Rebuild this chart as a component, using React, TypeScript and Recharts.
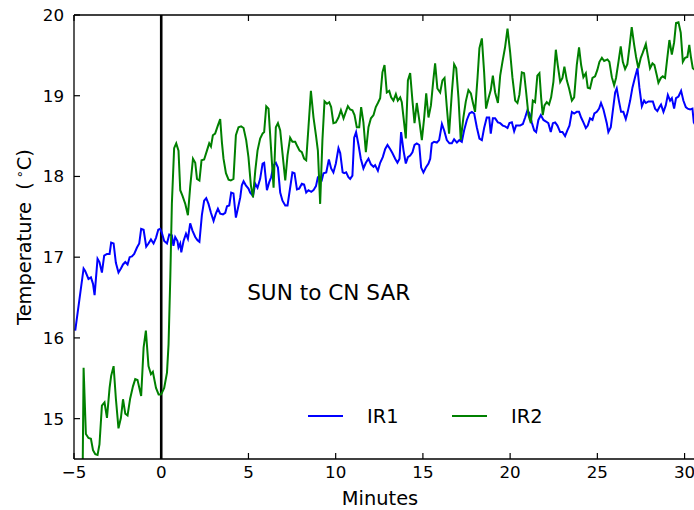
import { Legend, Line, LineChart, ReferenceDot, ReferenceLine, XAxis, YAxis } from 'recharts';

const ir1Minutes = [
  -4.93, -4.45, -4.36, -4.17, -4.03, -3.91, -3.82, -3.65, -3.54, -3.4, -3.27, -3.11, -2.96, -2.87, -2.73, -2.6, -2.45, -2.31, -2.19, -2.06,
  -1.93, -1.81, -1.68, -1.55, -1.39, -1.26, -1.15, -1.01, -0.86, -0.73, -0.59, -0.44, -0.3, -0.17, -0.06,
  0.04, 0.17, 0.33, 0.46, 0.61, 0.7, 0.8, 0.93, 0.99, 1.09, 1.15, 1.28, 1.42, 1.53, 1.66, 1.79, 1.95, 2.08, 2.19, 2.33,
  2.46, 2.58, 2.71, 2.85, 3.0, 3.13, 3.25, 3.38, 3.54, 3.67, 3.77, 3.9, 4.01, 4.14, 4.28, 4.4, 4.53, 4.62, 4.72, 4.85, 5.0,
  5.1, 5.26, 5.39, 5.52, 5.67, 5.81, 5.9, 6.06, 6.19, 6.3, 6.44, 6.57, 6.69, 6.82, 6.95, 7.11, 7.24, 7.39, 7.52, 7.64,
  7.78, 7.91, 8.06, 8.19, 8.31, 8.44, 8.6, 8.73, 8.87, 8.98, 9.07, 9.21, 9.3, 9.46, 9.61, 9.74, 9.87, 10.01, 10.16,
  10.26, 10.4, 10.49, 10.6, 10.73, 10.83, 10.96, 11.06, 11.17, 11.31, 11.44, 11.59, 11.73, 11.88, 12.02, 12.17, 12.26, 12.42, 12.55, 12.7,
  12.84, 12.97, 13.12, 13.25, 13.41, 13.54, 13.66, 13.75, 13.89, 14.02, 14.14, 14.27, 14.4, 14.52, 14.65, 14.79, 14.9, 15.03, 15.17, 15.32,
  15.42, 15.51, 15.64, 15.8, 15.93, 16.09, 16.22, 16.37, 16.52, 16.66, 16.79, 16.95, 17.09, 17.23, 17.36, 17.52, 17.67, 17.81, 17.94, 18.09,
  18.24, 18.38, 18.51, 18.66, 18.8, 18.89, 19.01, 19.14, 19.3, 19.43, 19.58, 19.71, 19.85, 19.96, 20.1, 20.23, 20.34, 20.48,
  20.57, 20.73, 20.86, 20.99, 21.11, 21.24, 21.38, 21.49, 21.62, 21.76, 21.91, 22.06, 22.19, 22.33, 22.45, 22.58, 22.71, 22.87, 23.0, 23.15,
  23.28, 23.4, 23.54, 23.67, 23.82, 23.95, 24.07, 24.2, 24.34, 24.45, 24.58, 24.72, 24.83, 24.97, 25.1, 25.21, 25.35,
  25.44, 25.54, 25.63, 25.77, 25.89, 26.02, 26.11, 26.25, 26.36, 26.49, 26.63, 26.74, 26.88, 27.01, 27.16, 27.3, 27.41, 27.55, 27.68, 27.78,
  27.93, 28.06, 28.18, 28.31, 28.44, 28.56, 28.65, 28.79, 28.92, 29.04, 29.17, 29.27, 29.4, 29.51, 29.65, 29.8, 29.93, 30.07, 30.18, 30.32,
  30.45, 30.53, 30.7,
];

const ir1Temp = [
  16.09, 16.86, 16.83, 16.73, 16.75, 16.67, 16.53, 16.98, 16.94, 16.81, 17.02, 17.04, 17.04, 17.18, 17.17, 16.93, 16.81, 16.86, 16.91, 16.94,
  16.91, 17.0, 17.01, 17.04, 17.12, 17.17, 17.35, 17.34, 17.13, 17.17, 17.22, 17.17, 17.24, 17.34, 17.35,
  17.3, 17.2, 17.17, 17.28, 17.27, 17.14, 17.25, 17.2, 17.12, 17.17, 17.06, 17.2, 17.29, 17.23, 17.42, 17.33, 17.25, 17.21, 17.19, 17.52,
  17.7, 17.73, 17.66, 17.55, 17.45, 17.54, 17.6, 17.54, 17.53, 17.55, 17.63, 17.64, 17.8, 17.79, 17.49, 17.61, 17.74, 17.89, 17.94, 17.89, 17.85,
  17.8, 17.76, 17.91, 17.86, 17.97, 18.16, 18.17, 17.83, 17.93, 17.99, 18.14, 18.17, 18.11, 17.8, 17.7, 17.64, 17.64, 17.86, 18.05, 18.04,
  17.84, 17.85, 17.91, 17.9, 17.8, 17.83, 17.81, 17.83, 17.88, 17.99, 18.0, 17.96, 18.04, 18.05, 18.21, 18.1, 18.05, 18.16, 18.35,
  18.29, 18.05, 18.04, 18.05, 17.99, 17.97, 18.01, 18.48, 18.55, 18.39, 18.22, 18.1, 18.17, 18.22, 18.15, 18.12, 18.14, 18.07, 18.17, 18.24,
  18.34, 18.39, 18.34, 18.29, 18.22, 18.17, 18.22, 18.55, 18.32, 18.16, 18.24, 18.26, 18.3, 18.39, 18.41, 18.39, 18.11, 18.05, 18.11, 18.16,
  18.22, 18.41, 18.43, 18.42, 18.45, 18.65, 18.57, 18.45, 18.41, 18.41, 18.46, 18.42, 18.45, 18.43, 18.57, 18.7, 18.78, 18.8, 18.78, 18.61,
  18.47, 18.45, 18.6, 18.73, 18.73, 18.53, 18.72, 18.72, 18.67, 18.66, 18.63, 18.62, 18.6, 18.66, 18.67, 18.56, 18.63, 18.63,
  18.63, 18.65, 18.73, 18.82, 18.78, 18.67, 18.57, 18.55, 18.7, 18.76, 18.7, 18.68, 18.66, 18.55, 18.66, 18.67, 18.63, 18.55, 18.55, 18.5,
  18.57, 18.63, 18.8, 18.78, 18.8, 18.8, 18.73, 18.67, 18.6, 18.63, 18.72, 18.7, 18.78, 18.8, 18.84, 18.91, 18.83,
  18.75, 18.66, 18.55, 18.61, 18.82, 19.04, 19.09, 18.92, 18.8, 18.8, 18.71, 18.8, 18.94, 19.1, 19.23, 19.34, 19.1, 18.87, 18.94, 18.91,
  18.93, 18.93, 18.93, 18.84, 18.81, 18.86, 18.89, 18.8, 18.88, 19.01, 18.94, 18.97, 18.84, 18.97, 18.99, 19.06, 18.94, 18.86, 18.84, 18.83,
  18.84, 18.67, 18.6,
];

const ir2Minutes = [
  -4.51, -4.45, -4.32, -4.17, -4.03, -3.91, -3.78, -3.65, -3.54, -3.4, -3.25, -3.11, -2.96, -2.87, -2.73, -2.6, -2.45, -2.31, -2.19, -2.06,
  -1.93, -1.78, -1.62, -1.49, -1.36, -1.15, -1.01, -0.88, -0.73, -0.59, -0.48, -0.3, -0.15, -0.02,
  0.04, 0.17, 0.33, 0.42, 0.52, 0.61, 0.74, 0.86, 0.99, 1.09, 1.22, 1.38, 1.53, 1.66, 1.82, 1.95, 2.05, 2.19, 2.31, 2.46,
  2.62, 2.75, 2.85, 2.96, 3.09, 3.23, 3.38, 3.48, 3.57, 3.71, 3.86, 3.99, 4.14, 4.28, 4.43, 4.58, 4.72, 4.87, 5.0, 5.14, 5.26,
  5.39, 5.52, 5.67, 5.81, 5.9, 6.02, 6.15, 6.29, 6.44, 6.57, 6.69, 6.82, 6.95, 7.11, 7.24, 7.39, 7.52, 7.68, 7.81, 7.93,
  8.06, 8.19, 8.31, 8.44, 8.58, 8.73, 8.87, 8.98, 9.11, 9.24, 9.36, 9.5, 9.63, 9.74, 9.87, 10.01, 10.16,
  10.3, 10.45, 10.58, 10.7, 10.83, 10.96, 11.08, 11.21, 11.35, 11.46, 11.59, 11.73, 11.88, 12.02, 12.17, 12.3, 12.42, 12.55, 12.68, 12.8,
  12.93, 13.07, 13.18, 13.31, 13.45, 13.56, 13.7, 13.79, 13.89, 14.02, 14.14, 14.27, 14.4, 14.52, 14.65, 14.79, 14.94, 15.07, 15.19, 15.32,
  15.46, 15.6, 15.7, 15.83, 15.99, 16.12, 16.24, 16.37, 16.5, 16.66, 16.79, 16.91, 17.04, 17.17, 17.32, 17.46, 17.61, 17.75, 17.86, 17.99,
  18.13, 18.24, 18.38, 18.51, 18.62, 18.76, 18.89, 19.01, 19.14, 19.3, 19.43, 19.56, 19.71, 19.85, 20.0, 20.13, 20.29, 20.42, 20.53, 20.67, 20.8,
  20.92, 21.05, 21.19, 21.3, 21.43, 21.56, 21.68, 21.78, 21.87, 21.97, 22.1, 22.23, 22.35, 22.48, 22.62, 22.73, 22.87, 23.0, 23.11, 23.25,
  23.38, 23.54, 23.67, 23.82, 23.95, 24.07, 24.2, 24.34, 24.45, 24.58, 24.72, 24.87, 25.0, 25.12, 25.26, 25.39,
  25.58, 25.69, 25.83, 25.96, 26.07, 26.21, 26.34, 26.46, 26.59, 26.72, 26.84, 26.97, 27.11, 27.22, 27.35, 27.49, 27.6, 27.78, 27.89, 28.02,
  28.16, 28.27, 28.41, 28.5, 28.64, 28.75, 28.88, 29.01, 29.13, 29.27, 29.4, 29.51, 29.65, 29.78, 29.9, 30.03, 30.16, 30.27, 30.37, 30.47, 30.7,
];

const ir2Temp = [
  14.2, 15.63, 14.81, 14.76, 14.75, 14.61, 14.56, 14.55, 14.68, 15.16, 15.2, 15.01, 15.38, 15.53, 15.65, 15.25, 14.88, 15.01, 15.24, 15.06,
  15.04, 15.25, 15.4, 15.49, 15.48, 15.28, 15.88, 16.09, 15.65, 15.55, 15.58, 15.38, 15.3, 15.3,
  15.32, 15.38, 15.57, 15.92, 16.75, 17.66, 18.35, 18.41, 18.32, 17.83, 17.76, 17.66, 17.52, 17.87, 18.22, 18.17, 17.97, 17.95, 18.2, 18.21,
  18.32, 18.41, 18.37, 18.51, 18.53, 18.62, 18.71, 18.42, 18.22, 18.04, 17.96, 17.95, 17.97, 18.51, 18.61, 18.62, 18.6, 18.45, 18.24, 17.89, 17.74,
  18.07, 18.32, 18.47, 18.53, 18.55, 18.87, 18.84, 18.36, 17.86, 18.61, 18.66, 18.57, 18.29, 17.95, 18.26, 18.48, 18.43, 18.43, 18.37, 18.32,
  18.3, 18.22, 18.2, 18.61, 19.06, 18.73, 18.51, 18.32, 17.66, 18.45, 18.93, 18.9, 18.92, 18.86, 18.66, 18.67, 18.73,
  18.82, 18.72, 18.8, 18.87, 18.83, 18.82, 18.76, 18.61, 18.61, 18.86, 18.67, 18.3, 18.61, 18.72, 18.76, 18.86, 18.91, 18.97, 19.29, 19.38,
  19.04, 19.06, 18.98, 18.94, 19.02, 18.94, 18.98, 18.92, 18.73, 18.47, 19.19, 19.28, 18.94, 18.66, 18.91, 18.7, 18.45, 18.72, 19.03, 18.73,
  18.88, 19.2, 19.4, 19.09, 19.04, 19.19, 19.22, 18.86, 18.53, 19.04, 19.39, 19.34, 18.97, 18.45, 18.73, 18.93, 19.07, 19.03, 18.92, 18.8,
  19.22, 19.59, 19.71, 19.29, 18.84, 18.97, 19.07, 19.25, 19.04, 18.91, 19.25, 19.42, 19.6, 19.83, 19.54, 19.23, 18.94, 18.91, 19.01, 19.29, 19.28,
  19.04, 18.76, 18.66, 18.94, 18.92, 19.25, 19.28, 18.97, 18.76, 18.88, 18.92, 18.89, 18.98, 19.17, 19.57, 19.38, 19.17, 19.22, 19.36, 19.19,
  19.09, 18.94, 18.98, 19.38, 19.6, 19.38, 19.23, 19.28, 19.1, 19.09, 19.22, 19.24, 19.32, 19.42, 19.47, 19.43,
  19.45, 19.42, 19.23, 19.13, 19.22, 19.42, 19.61, 19.42, 19.33, 19.39, 19.6, 19.85, 19.63, 19.48, 19.34, 19.47, 19.53, 19.64, 19.5, 19.34,
  19.4, 19.38, 19.25, 19.16, 19.22, 19.24, 19.22, 19.47, 19.69, 19.51, 19.66, 19.9, 19.91, 19.78, 19.42, 19.47, 19.48, 19.63, 19.47, 19.34, 19.3,
];

const xTicks = [-5, 0, 5, 10, 15, 20, 25, 30];
const yTicks = [15, 16, 17, 18, 19, 20];

const ir1Data = ir1Minutes.map((m, i) => ({ minutes: m, temp: ir1Temp[i] }));
const ir2Data = ir2Minutes.map((m, i) => ({ minutes: m, temp: ir2Temp[i] }));

const FONT = 'DejaVu Sans, sans-serif';
const fmt = (v: number) => (v < 0 ? `\u2212${Math.abs(v)}` : `${v}`);

const BottomTick = ({ x, y, payload }: any) => (
  <g>
    <line x1={x} y1={y} x2={x} y2={y - 6} stroke="#000" strokeWidth={1.2} />
    <text x={x} y={y + 19} textAnchor="middle" fontSize={16.7} fontFamily={FONT} fill="#000">
      {fmt(payload.value)}
    </text>
  </g>
);

// top spine: inward ticks only, no labels
const TopTick = ({ x, y }: any) => <line x1={x} y1={y} x2={x} y2={y + 6} stroke="#000" strokeWidth={1.2} />;

const LeftTick = ({ x, y, payload }: any) => (
  <g>
    <line x1={x} y1={y} x2={x + 6} y2={y} stroke="#000" strokeWidth={1.2} />
    <text x={x - 10} y={y + 6} textAnchor="end" fontSize={16.7} fontFamily={FONT} fill="#000">
      {fmt(payload.value)}
    </text>
  </g>
);

const LegendBox = ({ payload }: any) => {
  const slots = [
    { line: 8, text: 67 },
    { line: 152, text: 211 },
  ];
  return (
    <svg width={260} height={30}>
      {(payload || []).map((entry: any, i: number) => (
        <g key={entry.value}>
          <line x1={slots[i].line} y1={15} x2={slots[i].line + 35} y2={15} stroke={entry.color} strokeWidth={2} />
          <text x={slots[i].text} y={22} fontSize={19.4} fontFamily={FONT} fill="#000">
            {entry.value}
          </text>
        </g>
      ))}
    </svg>
  );
};

export default function App() {
  return (
    <div style={{ position: 'absolute', left: 0, top: 0, width: 694, height: 510, background: '#fff' }}>
      <LineChart width={694} height={510} margin={{ top: 14, right: 0, bottom: 0, left: 0 }} style={{ fontFamily: FONT }}>
        <XAxis
          xAxisId="top"
          orientation="top"
          type="number"
          dataKey="minutes"
          domain={[-5, 30.54]}
          allowDataOverflow
          ticks={xTicks}
          height={1}
          tickSize={0}
          tickMargin={0}
          tickLine={false}
          tick={<TopTick />}
          axisLine={{ stroke: '#000', strokeWidth: 1.3 }}
        />
        <XAxis
          type="number"
          dataKey="minutes"
          domain={[-5, 30.54]}
          allowDataOverflow
          ticks={xTicks}
          height={51}
          tickSize={0}
          tickMargin={0}
          tickLine={false}
          tick={<BottomTick />}
          axisLine={{ stroke: '#000', strokeWidth: 1.3 }}
          label={() => (
            <text x={380} y={505} textAnchor="middle" fontSize={19.4} fontFamily={FONT} fill="#000">
              Minutes
            </text>
          )}
        />
        <YAxis
          type="number"
          domain={[14.5, 20]}
          allowDataOverflow
          ticks={yTicks}
          width={74}
          tickSize={0}
          tickMargin={0}
          tickLine={false}
          tick={<LeftTick />}
          axisLine={{ stroke: '#000', strokeWidth: 1.3 }}
          label={() => (
            <text
              transform="translate(31,237) rotate(-90)"
              textAnchor="middle"
              fontSize={19.4}
              fontFamily={FONT}
              fill="#000"
              style={{ whiteSpace: 'pre' }}
            >
              {'Temperature  (\u2009'}
              <tspan dy={-7} fontSize={13}>
                {'\u2218'}
              </tspan>
              <tspan dy={7}>C)</tspan>
            </text>
          )}
        />
        <ReferenceLine x={0} stroke="#000" strokeWidth={2.6} />
        <Line
          data={ir1Data}
          dataKey="temp"
          name="IR1"
          type="linear"
          stroke="#0000ff"
          strokeWidth={2}
          dot={false}
          isAnimationActive={false}
        />
        <Line
          data={ir2Data}
          dataKey="temp"
          name="IR2"
          type="linear"
          stroke="#008000"
          strokeWidth={2}
          dot={false}
          isAnimationActive={false}
        />
        <ReferenceDot
          x={9.6}
          y={16.57}
          r={0}
          fill="none"
          stroke="none"
          label={{ value: 'SUN to CN SAR', position: 'center', fontSize: 21.6, fill: '#000', fontFamily: FONT }}
        />
        <Legend
          layout="horizontal"
          verticalAlign="middle"
          align="center"
          content={<LegendBox />}
          wrapperStyle={{ position: 'absolute', left: 300, top: 401, width: 260, height: 30 }}
        />
      </LineChart>
    </div>
  );
}
